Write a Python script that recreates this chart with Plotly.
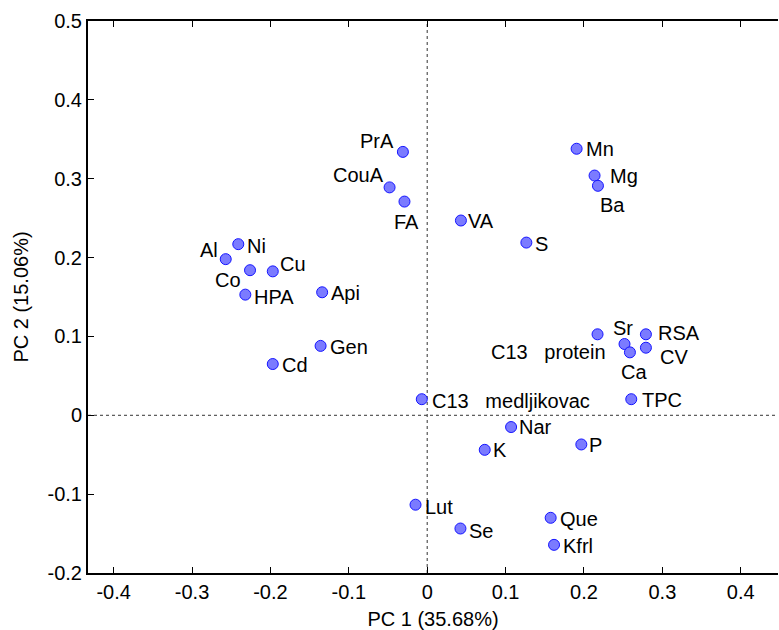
import plotly.graph_objects as go

# ---- data ----
names = ["PrA", "CouA", "FA", "VA", "S", "Mn", "Mg", "Ba",
         "Al", "Ni", "Co", "Cu", "HPA", "Api", "Gen", "Cd",
         "Sr", "C13\u00a0\u00a0 protein", "Ca", "RSA", "CV", "TPC",
         "C13\u00a0\u00a0 medljikovac", "Nar", "K", "P", "Lut", "Se", "Que", "Kfrl"]
pc1 = [-0.031, -0.048, -0.029, 0.043, 0.1265, 0.1906, 0.2135, 0.2178,
       -0.257, -0.241, -0.226, -0.197, -0.232, -0.134, -0.136, -0.197,
       0.2173, 0.2517, 0.2586, 0.279, 0.279, 0.2603,
       -0.0069, 0.107, 0.0734, 0.1966, -0.0149, 0.0424, 0.1575, 0.1618]
pc2 = [0.334, 0.289, 0.271, 0.247, 0.219, 0.338, 0.304, 0.291,
       0.198, 0.217, 0.184, 0.1825, 0.153, 0.156, 0.088, 0.065,
       0.1027, 0.0904, 0.0798, 0.1027, 0.0857, 0.0204,
       0.0204, -0.0149, -0.0438, -0.037, -0.1134, -0.1436, -0.130, -0.1643]

x_tickvals = [-0.4, -0.3, -0.2, -0.1, 0, 0.1, 0.2, 0.3, 0.4]
x_ticktext = ["-0.4", "-0.3", "-0.2", "-0.1", "0", "0.1", "0.2", "0.3", "0.4"]
y_tickvals = [-0.2, -0.1, 0, 0.1, 0.2, 0.3, 0.4, 0.5]
y_ticktext = ["-0.2", "-0.1", "0", "0.1", "0.2", "0.3", "0.4", "0.5"]

x_title = "PC 1 (35.68%)"
y_title = "PC 2 (15.06%)"

# label placement (anchor, pixel dx right, pixel dy down)
label_pos = [("right", -7, -11), ("right", -4, -12), ("center", 2, 20), ("left", 5, 0),
             ("left", 7, 1), ("left", 7, 0), ("left", 13, 0), ("left", 0, 19),
             ("right", -6, -9), ("left", 7, 2), ("right", -7, 10), ("left", 5, -7),
             ("left", 7, 2), ("left", 7, 1), ("left", 7, 1), ("left", 7, 1),
             ("left", 13, -6), ("right", -17, 8), ("center", 4, 20), ("left", 10, -1),
             ("left", 12, 9), ("left", 9, 1),
             ("left", 8, 2), ("left", 6, 0), ("left", 6, 0), ("left", 6, 1),
             ("left", 7, 2), ("left", 7, 2), ("left", 7, 1), ("left", 7, 1)]

FONT = "Liberation Sans, Arial, sans-serif"
FS = 20

fig = go.Figure()
fig.add_trace(go.Scatter(
    x=pc1, y=pc2, mode="markers",
    marker=dict(size=11, color="#7b7bff", line=dict(color="#1515ff", width=1)),
    hoverinfo="text", text=names, showlegend=False,
))

annotations = []
for n, xv, yv, (anc, dx, dy) in zip(names, pc1, pc2, label_pos):
    annotations.append(dict(
        x=xv, y=yv, xref="x", yref="y", text=n, showarrow=False,
        xanchor=anc, yanchor="middle", xshift=dx, yshift=-dy,
        font=dict(family=FONT, size=FS, color="#000000"),
    ))

shapes = [
    dict(type="line", xref="x", yref="paper", x0=0, x1=0, y0=0, y1=1,
         line=dict(color="#333333", width=1, dash="dot"), layer="below"),
    dict(type="line", xref="paper", yref="y", x0=0, x1=1, y0=0, y1=0,
         line=dict(color="#333333", width=1, dash="dot"), layer="below"),
]

fig.update_layout(
    width=779, height=630,
    margin=dict(l=88, r=1, t=21, b=57),
    paper_bgcolor="white", plot_bgcolor="white",
    font=dict(family=FONT, size=FS, color="#000000"),
    annotations=annotations, shapes=shapes,
    xaxis=dict(range=[-0.4327, 0.4475], tickvals=x_tickvals, ticktext=x_ticktext,
               ticks="inside", ticklen=6, tickcolor="#000000", tickwidth=1,
               showline=True, linecolor="#000000", linewidth=2, mirror="allticks",
               showgrid=False, zeroline=False,
               title=dict(text=x_title, standoff=10, font=dict(size=FS)),
               tickfont=dict(size=FS)),
    yaxis=dict(range=[-0.2, 0.5], tickvals=y_tickvals, ticktext=y_ticktext,
               ticks="inside", ticklen=6, tickcolor="#000000", tickwidth=1,
               showline=True, linecolor="#000000", linewidth=2, mirror=False,
               showgrid=False, zeroline=False,
               title=dict(text=y_title, standoff=14, font=dict(size=FS)),
               tickfont=dict(size=FS)),
)

fig.write_html("out.html", config={"displayModeBar": False},
               post_script="document.body.style.margin='0';")
